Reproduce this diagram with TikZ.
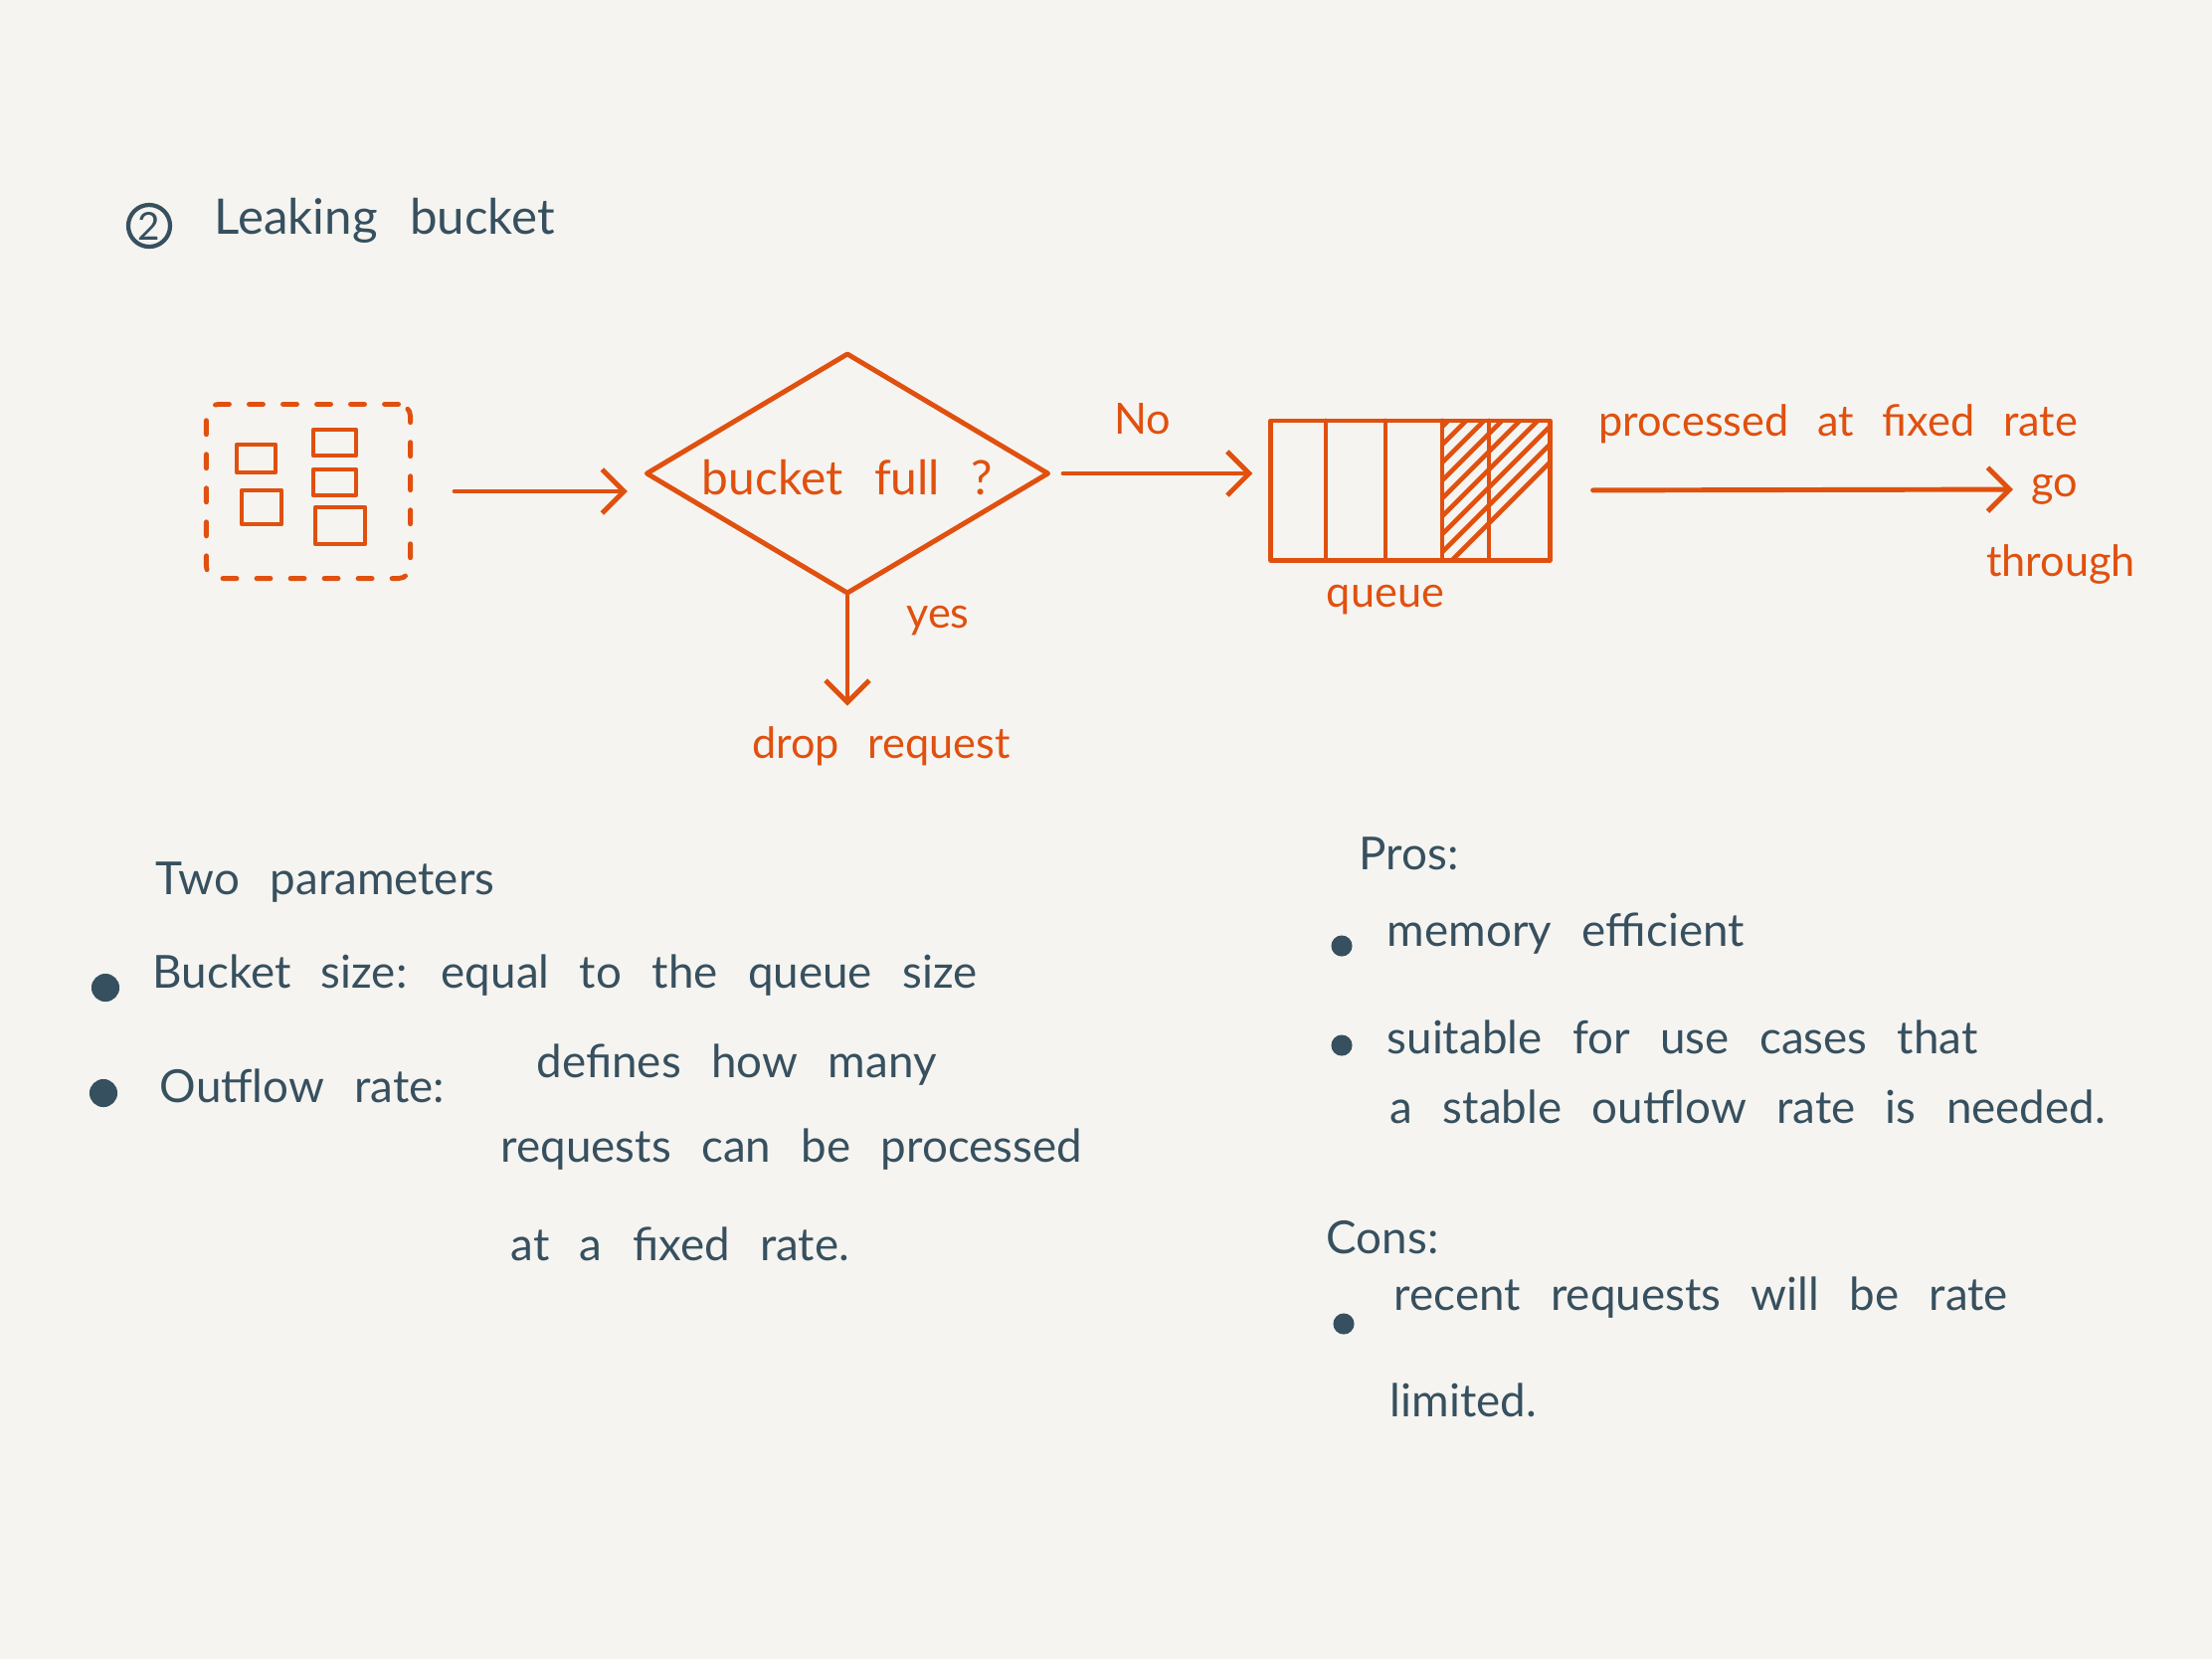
\documentclass[tikz,border=0pt]{standalone}
\usepackage{fontspec}
\setmainfont{Lato}
\newfontfamily\widefont{Lato}[WordSpace=4.2]
\newfontfamily\midfont{Lato}[WordSpace=2.6]
\usetikzlibrary{arrows.meta,shapes.geometric}
\definecolor{bg}{HTML}{F5F4F0}
\definecolor{ink}{HTML}{37505F}
\definecolor{org}{HTML}{E0500F}
\tikzset{
  dk/.style={text=ink,inner sep=0pt,font=\widefont\fontsize{13}{15}\selectfont},
  og/.style={text=org,inner sep=0pt,font=\midfont\fontsize{12.3}{15}\selectfont},
  oline/.style={draw=org,line width=1.4pt,line cap=round,line join=round},
  arr/.style={oline,-{Straight Barb[length=2.2mm,width=4.4mm,line width=1.4pt]}},
  bul/.style={circle,fill=ink,inner sep=0pt,minimum size=#1},
  sq/.style={oline,line width=1.3pt}
}
\begin{document}
\begin{tikzpicture}[x=0.01cm,y=-0.01cm]
\fill[bg] (0,0) rectangle (2224,1668);
\useasboundingbox (0,0) rectangle (2224,1668);

% title
\node[circle,draw=ink,line width=1.2pt,text=ink,inner sep=0pt,minimum size=0.42cm,font=\fontsize{11}{13}\selectfont] (num) at (150,227) {2};
\node[dk,anchor=west,font=\widefont\fontsize{14}{17}\selectfont] (title) at (215,222) {Leaking bucket};

% bucket box
\node[oline,dash pattern=on 0.14cm off 0.2cm,rounded corners=0.12cm,minimum width=2.05cm,minimum height=1.75cm] (box) at (310,494) {};
\draw[sq] (238,447) rectangle (277,475);
\draw[sq] (243,493) rectangle (283,527);
\draw[sq] (315,432) rectangle (358,458);
\draw[sq] (315,472) rectangle (358,498);
\draw[sq] (317,510) rectangle (367,547);

% diamond
\node[diamond,oline,inner sep=0pt,minimum width=4.05cm,minimum height=2.42cm] (dia) at (852,476) {};
\node[og,font=\midfont\fontsize{13.6}{16}\selectfont] (q) at (852,480) {bucket full ?};

% queue
\node[oline,minimum width=2.8cm,minimum height=1.4cm,inner sep=0pt] (queue) at (1418,493) {};
\foreach \x in {1333,1393,1450,1497}
  \draw[oline] (\x,423) -- (\x,563);
\begin{scope}
  \clip (1450,423) rectangle (1558,563);
  \foreach \k in {0,...,16}
    \draw[oline,line width=1.3pt] (1440,563-\k*18+20) -- ++(150,-150);
\end{scope}
\node[og] (qlab) at (1393,603) {queue};

% labels
\node[og] (drop) at (886,750) {drop request};
\node[og] (go) at (2066,492) {go};
\node[og] (through) at (2072,567) {through};
\node[og] (no) at (1149,421) {No};
\node[og] (yes) at (943,624) {yes};
\node[og] (rate) at (1848,426) {processed at fixed rate};

% connectors
\draw[arr,shorten <=0.42cm,shorten >=0.16cm] (box.east) -- (box.east -| dia.west);
\draw[arr,shorten <=0.12cm,shorten >=0.16cm] (dia.east) -- (dia.east -| queue.west);
\draw[arr,shorten >=0.2cm] (dia.south) -- (dia.south |- drop.north);
\draw[arr,shorten <=0.41cm,shorten >=0.18cm] (queue.east) -- (go.west);

% left notes
\node[dk,anchor=west] (two) at (156,887) {Two parameters};
\node[bul=8pt] (b1) at (106,993) {};
\node[dk,anchor=west] (t1) at (153,981) {Bucket size: equal to the queue size};
\node[bul=8pt] (b2) at (104,1099) {};
\node[dk,anchor=west] (t2) at (160,1092) {Outflow rate:};
\node[dk,anchor=west] (t3) at (539,1071) {defines how many};
\node[dk,anchor=west] (t4) at (503,1156) {requests can be processed};
\node[dk,anchor=west] (t5) at (513,1251) {at a fixed rate.};

% right notes
\node[dk,anchor=west] (pros) at (1366,858) {Pros:};
\node[bul=6pt] (b3) at (1349,951) {};
\node[dk,anchor=west] (r1) at (1394,939) {memory efficient};
\node[bul=6pt] (b4) at (1349,1051) {};
\node[dk,anchor=west] (r2) at (1394,1043) {suitable for use cases that};
\node[dk,anchor=west] (r3) at (1397,1113) {a stable outflow rate is needed.};
\node[dk,anchor=west] (cons) at (1333,1244) {Cons:};
\node[bul=6pt] (b5) at (1351,1331) {};
\node[dk,anchor=west] (r4) at (1401,1305) {recent requests will be rate};
\node[dk,anchor=west] (r5) at (1397,1408) {limited.};
\end{tikzpicture}
\end{document}
